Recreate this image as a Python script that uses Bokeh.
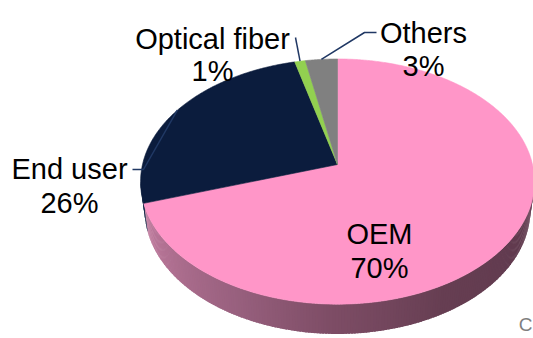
import numpy as np
from bokeh.plotting import figure
from bokeh.models import Range1d
from bokeh.embed import file_html
from bokeh.resources import INLINE
from bokeh.core.properties import value

# ---- data -------------------------------------------------------------
categories = ["OEM", "End user", "Optical fiber", "Others"]
shares = [70, 26, 1, 3]
top_colors = ["#FF96C8", "#0B1C3D", "#92D050", "#808080"]
footnote = "C"

# ---- 3D pie projection (disc tilted towards the viewer, with perspective)
CX, CY = 337.0, 164.0       # screen position of the pie centre
K = 195.0                   # screen scale
SIN_A, COS_A = 0.6165, 0.787
S, T = 0.1393, 0.109        # perspective terms
H = 0.19                    # thickness of the disc


def proj(phi_deg, z=0.0, r=1.0):
    """phi is measured clockwise from 12 o'clock; z is height (0 = top face)."""
    ph = np.radians(phi_deg)
    X = r * np.sin(ph)
    Y = r * np.cos(ph)
    w = 1 + S * Y - T * z
    u = Y * SIN_A + z * COS_A
    return CX + K * X / w, CY - K * u / w


total = float(sum(shares))
bounds = np.concatenate([[0.0], np.cumsum(shares) / total * 360.0])


def slice_index(phi):
    phi = phi % 360.0
    for i in range(len(shares)):
        if bounds[i] <= phi < bounds[i + 1]:
            return i
    return len(shares) - 1


# side shading: lighter on the left, darker to the right (by surface angle)
shade_phi = [98, 110, 151, 182, 207, 262]
side_rgb = {
    0: [(95, 57, 77), (96, 58, 78), (102, 62, 82), (126, 77, 102), (152, 96, 126), (202, 130, 166)],
    1: [(6, 14, 30), (6, 14, 30), (6, 15, 32), (7, 17, 36), (8, 20, 42), (14, 32, 66)],
    2: [(70, 100, 40)] * 6,
    3: [(60, 60, 60)] * 6,
}


def side_color(i, phi):
    cols = np.array(side_rgb[i], dtype=float)
    rgb = [np.interp(phi, shade_phi, cols[:, k]) for k in range(3)]
    return "#%02x%02x%02x" % tuple(int(round(c)) for c in rgb)


p = figure(width=533, height=338, x_range=Range1d(0, 533), y_range=Range1d(338, 0),
           output_backend="svg", toolbar_location=None, min_border=0,
           x_axis_location=None, y_axis_location=None)
p.grid.visible = False
p.outline_line_color = None
p.background_fill_color = "white"
p.border_fill_color = "white"

# ---- side wall of the visible (front) half ------------------------------
phi_left = 360.0 - np.degrees(np.arccos(-S))
phi_right = np.degrees(np.arccos(-S))
phis = list(np.arange(phi_right, phi_left, 0.75)) + [phi_left]
phis += [b for b in bounds if phi_right < b < phi_left]
phis = sorted(set(phis))
sx, sy, sc = [], [], []
for k, (a0, a1) in enumerate(zip(phis[:-1], phis[1:])):
    i = slice_index(0.5 * (a0 + a1))
    # overlap each strip with the next one (within the same slice) to hide seams
    a1e = a1
    if k + 2 < len(phis) and slice_index(0.5 * (a1 + phis[k + 2])) == i:
        a1e = a1 + 0.6 * (phis[k + 2] - a1)
    x0t, y0t = proj(a0)
    x1t, y1t = proj(a1e)
    x0b, y0b = proj(a0, -H)
    x1b, y1b = proj(a1e, -H)
    sx.append([x0t, x1t, x1b, x0b])
    sy.append([y0t, y1t, y1b, y0b])
    sc.append(side_color(i, 0.5 * (a0 + a1)))
p.patches(sx, sy, fill_color=sc, line_color=None)

# ---- top face slices ----------------------------------------------------
tx, ty = [], []
for i in range(len(shares)):
    arc = np.linspace(bounds[i], bounds[i + 1], max(3, int((bounds[i + 1] - bounds[i]) * 2)))
    ax, ay = proj(arc)
    tx.append([CX] + list(ax))
    ty.append([CY] + list(ay))
p.patches(tx, ty, fill_color=top_colors, line_color=top_colors, line_width=0.6)

# ---- leader lines -------------------------------------------------------
mid = [(bounds[i] + bounds[i + 1]) / 2 for i in range(len(shares))]
elbows = {1: [(132, 169), (143, 169)], 2: [(295, 37)], 3: [(376, 32), (364, 32)]}
for i, pts in elbows.items():
    axp, ayp = proj(mid[i])
    xs = [q[0] for q in pts] + [axp]
    ys = [q[1] for q in pts] + [ayp]
    p.line(xs, ys, line_color="#203864", line_width=1.5)

# ---- labels -------------------------------------------------------------
label_pos = {0: (379, 233, 267), 1: (69, 168, 202), 2: (212, 38, 70), 3: (423, 32, 65)}
lx, ly, lt = [], [], []
for i, (x, y1, y2) in label_pos.items():
    lx += [x, x]
    ly += [y1, y2]
    lt += [categories[i], f"{shares[i]}%"]
p.text(x=lx, y=ly, text=lt, text_font=value("Liberation Sans"), text_font_size="29px",
       text_align="center", text_baseline="alphabetic", text_color="black")

p.text(x=[532], y=[324], text=[footnote], text_font=value("Liberation Sans"),
       text_font_size="19px", text_align="right", text_baseline="alphabetic",
       text_color="#7F7F7F")

open("out.html", "w").write(file_html(p, INLINE))
